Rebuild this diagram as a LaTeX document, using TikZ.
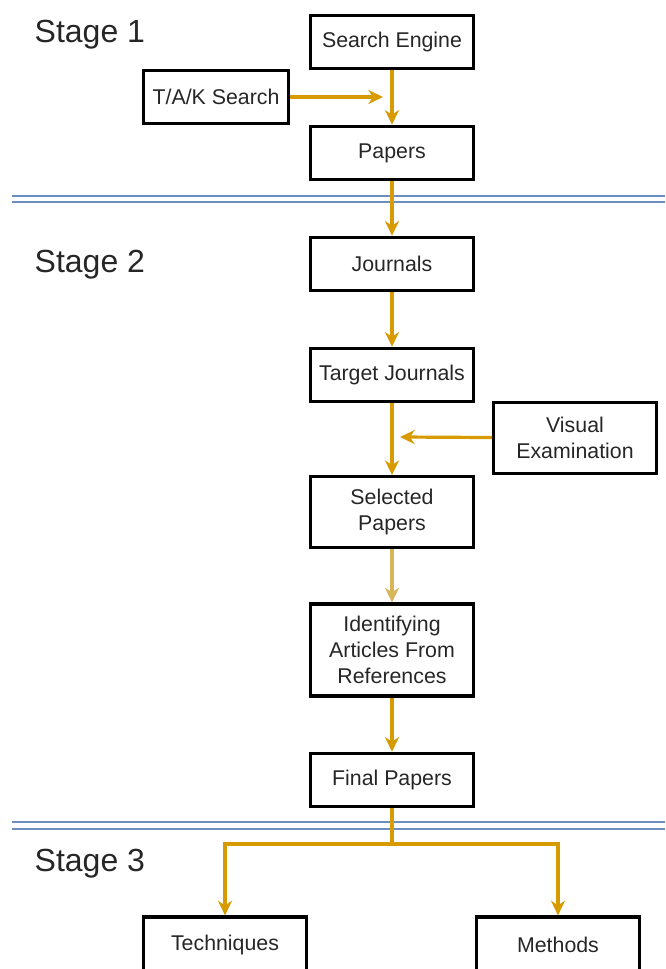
\documentclass[tikz,border=0pt]{standalone}
\usepackage{fontspec}
\setmainfont{Liberation Sans}
\usepackage{tikz}
\usetikzlibrary{arrows.meta}
\tikzset{>={Stealth[length=11pt,width=10.5pt,inset=3.5pt]}}
\definecolor{flowline}{HTML}{D79B00}
\definecolor{flowlight}{HTML}{D6B656}
\definecolor{stageline}{HTML}{6C8EBF}

\begin{document}
\begin{tikzpicture}[x=0.75pt, y=-0.75pt,
    box/.style={draw=black, line width=2.4pt, minimum width=122pt, minimum height=40pt,
      inner sep=0pt, align=center, text=black!85, font=\fontsize{16}{19.5}\selectfont},
    flow/.style={->, draw=flowline, line width=2.4pt},
    stage/.style={anchor=base west, text=black!85, font=\fontsize{24}{29}\selectfont},
    sep/.style={draw=stageline, line width=1.1pt}]
                \useasboundingbox (0, 0) rectangle (665, 969);
                \clip (0, 0) rectangle (665, 969);
                % stage 1
                \node[stage] (s1) at (30, 43) {Stage 1};
                \node[box] (se) at (392, 42) {Search Engine};
                \node[box, minimum width=109pt] (tak) at (216, 97) {T/A/K Search};
                \node[box] (pap) at (392, 153) {Papers};
                \coordinate (m1) at (383, 97);
                \draw[flow] (se) -- (pap);
                \draw[flow] (tak) -- (m1);
                \draw[sep] (12, 196) -- (665, 196);
                \draw[sep] (12, 202) -- (665, 202);
                % stage 2
                \node[stage] (s2) at (30, 273) {Stage 2};
                \node[box] (jour) at (392, 264) {Journals};
                \node[box] (tj) at (392, 375) {Target Journals};
                \node[box, minimum height=53pt] (ve) at (575, 438) {Visual\\Examination};
                \node[box, minimum height=53pt] (sp) at (392, 512) {Selected\\Papers};
                \node[box, minimum height=69pt] (iafr) at (392, 650) {Identifying\\Articles From\\References};
                \node[box] (fp) at (392, 780) {Final Papers};
                \coordinate (m2) at (400, 437);
                \draw[flow] (pap) -- (jour);
                \draw[flow] (jour) -- (tj);
                \draw[flow] (tj) -- (sp);
                \draw[flow] (ve) -- (m2);
                \draw[flow, draw=flowlight] (sp) -- (iafr);
                \draw[flow] (iafr) -- (fp);
                \draw[sep] (12, 822) -- (665, 822);
                \draw[sep] (12, 829) -- (665, 829);
                % stage 3
                \node[stage] (s3) at (30, 871) {Stage 3};
                \node[box, minimum height=42pt] (tech) at (225, 945) {Techniques};
                \node[box, minimum height=42pt] (meth) at (558, 945) {Methods};
                \coordinate (br) at (392, 844);
                \draw[flow, -] (fp) -- (br);
                \draw[flow] (br) -| (tech);
                \draw[flow] (br) -| (meth);
            \end{tikzpicture}
\end{document}
